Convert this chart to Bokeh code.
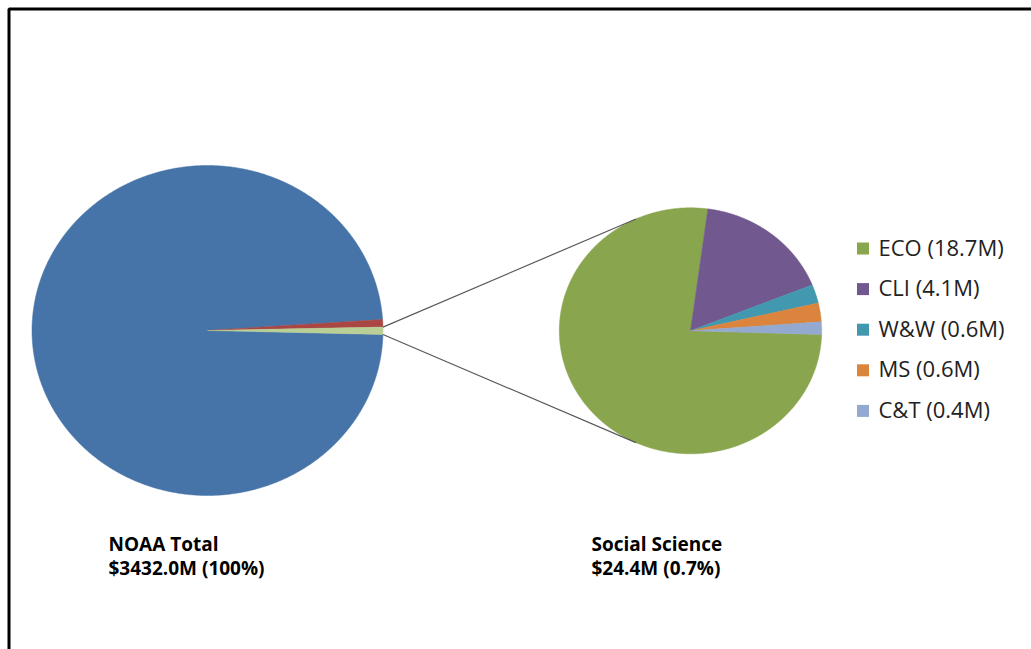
import numpy as np
from bokeh.plotting import figure
from bokeh.models import Range1d
from bokeh.core.properties import value
from bokeh.embed import file_html
from bokeh.resources import INLINE

# ---- data ----
noaa_parts = ["Rest of NOAA", "Other", "Social Science"]
noaa_values = [3382.6, 25.0, 24.4]
noaa_colors = ["#4674A9", "#AA4643", "#B9CF96"]

ss_categories = ["ECO", "CLI", "W&W", "MS", "C&T"]
ss_values = [18.7, 4.1, 0.6, 0.6, 0.4]
ss_colors = ["#89A54E", "#71588F", "#4198AF", "#DB843D", "#93A9CF"]
ss_legend = ["ECO (18.7M)", "CLI (4.1M)", "W&W (0.6M)", "MS (0.6M)", "C&T (0.4M)"]

total_label = ["NOAA  Total", "$3432.0M (100%)"]
ss_label = ["Social Science", "$24.4M (0.7%)"]

# ---- layout ----
W, H = 1031, 649
TXT = 8  # baseline correction for rendered text
ROW = 40.6  # legend row spacing


def ix(x):
    return x


def iy(y):
    return H - y


def slices(vals, cx, cy, rx, ry, start):
    vals = np.asarray(vals, float)
    frac = vals / vals.sum()
    ends = start - 2 * np.pi * np.cumsum(frac)
    starts = np.concatenate([[start], ends[:-1]])
    xs, ys = [], []
    for a0, a1 in zip(starts, ends):
        n = max(int(abs(a1 - a0) / 0.005), 2) + 1
        t = np.linspace(a0, a1, n)
        xs.append(np.concatenate([[cx], cx + rx * np.cos(t)]).tolist())
        ys.append(np.concatenate([[cy], cy + ry * np.sin(t)]).tolist())
    return xs, ys, starts, ends


p = figure(width=W, height=H, output_backend="svg", toolbar_location=None,
           x_range=Range1d(0, W), y_range=Range1d(0, H), min_border=0,
           background_fill_color="white", border_fill_color="white")
p.axis.visible = False
p.xgrid.visible = False
p.ygrid.visible = False
p.outline_line_color = None

# frame (top and left edges visible, others run off the page)
p.quad(left=[ix(8.5)], right=[ix(W + 20)], top=[iy(8.5)], bottom=[iy(H + 20)],
       fill_color=None, line_color="black", line_width=3)

# left pie (NOAA total)
lcx, lcy, lrx, lry = ix(207), iy(330), 175.5, 165
lxs, lys, lst, len_ = slices(noaa_values, lcx, lcy, lrx, lry, -0.024)
p.patches(lxs, lys, fill_color=noaa_colors, line_color=noaa_colors, line_width=0.5)

# right pie (social science)
rcx, rcy, rrx, rry = ix(690), iy(330.3), 131.2, 123
rxs, rys, rst, ren = slices(ss_values, rcx, rcy, rrx, rry, -0.03)
p.patches(rxs, rys, fill_color=ss_colors, line_color=ss_colors, line_width=0.5)

# connector lines from the social-science slice to the secondary pie
ss_i = noaa_parts.index("Social Science")
a_top, a_bot = len_[ss_i - 1], len_[ss_i]
x0 = [lcx + lrx * np.cos(a_top), lcx + lrx * np.cos(a_bot)]
y0 = [lcy + lry * np.sin(a_top), lcy + lry * np.sin(a_bot)]
x1 = [rcx + rrx * np.cos(2.0), rcx + rrx * np.cos(-2.0)]
y1 = [rcy + rry * np.sin(2.0), rcy + rry * np.sin(-2.0)]
p.segment(x0, y0, x1, y1, line_color="#595959", line_width=1.2)

# legend
idx = np.arange(len(ss_categories))
p.scatter(x=[ix(862.5)] * len(idx), y=iy(248 + ROW * idx), marker="square", size=12,
          fill_color=ss_colors, line_color=None)
p.text(x=[ix(878)] * len(idx), y=iy(254 - TXT + ROW * idx), text=ss_legend,
       text_font=value("Open Sans"), text_font_size="22px", text_color="#222222",
       text_baseline="alphabetic", text_align="left")

# bottom labels
p.text(x=[ix(108)] * 2, y=[iy(551 - TXT), iy(575 - TXT)], text=total_label,
       text_font=value("Open Sans"), text_font_style="bold", text_font_size="19px",
       text_color="black", text_baseline="alphabetic")
p.text(x=[ix(591)] * 2, y=[iy(551 - TXT), iy(575 - TXT)], text=ss_label,
       text_font=value("Open Sans"), text_font_style="bold", text_font_size="19px",
       text_color="black", text_baseline="alphabetic")

open("out.html", "w").write(file_html(p, INLINE))
